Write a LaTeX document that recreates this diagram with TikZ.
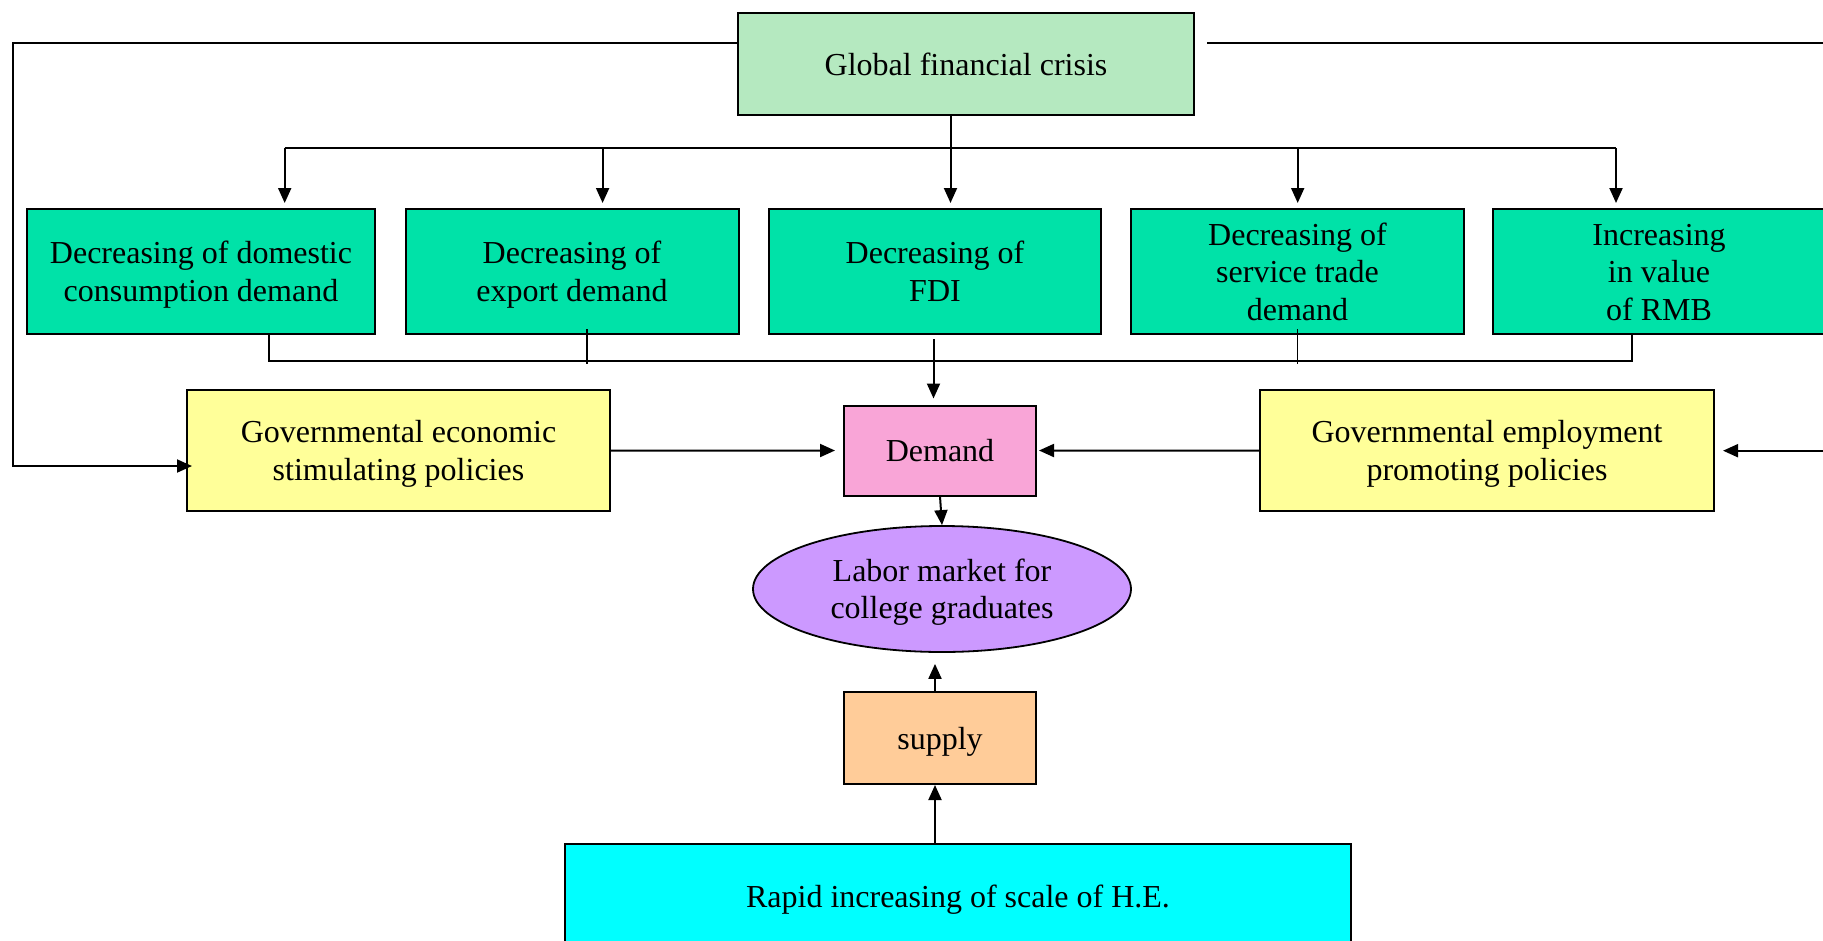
\documentclass[tikz,border=0pt]{standalone}
\usepackage{fontspec}
\setmainfont{Liberation Serif}
\usetikzlibrary{arrows.meta,shapes.geometric}
\definecolor{cglob}{RGB}{181,233,192}
\definecolor{cgreen}{RGB}{0,226,168}
\definecolor{cyel}{RGB}{255,255,153}
\definecolor{cpink}{RGB}{249,165,215}
\definecolor{cpurp}{RGB}{204,153,255}
\definecolor{cpeach}{RGB}{255,204,153}
\definecolor{ccyan}{RGB}{0,255,255}
\newcommand{\topstrut}{\rule{0pt}{29pt}}
\tikzset{
  box/.style={draw=black, line width=2pt, inner sep=0pt, align=center,
    font=\fontsize{32}{37.5}\selectfont,
    execute at end node={\rule[-7pt]{0pt}{7pt}}},
  conn/.style={line width=2pt},
  arr/.style={line width=2pt, -{Triangle[length=15pt,width=13pt]}},
  tick/.style={line width=1.2pt},
}
\begin{document}
\begin{tikzpicture}[x=1pt,y=-1pt]
\useasboundingbox (0,0) rectangle (1823,940);
\clip (0,0) rectangle (1823,940);
\fill[white] (0,0) rectangle (1823,940);

% nodes
\node[box, fill=cglob, minimum width=456pt, minimum height=102pt] (glob) at (966,64) {\topstrut Global financial crisis};

\node[box, fill=cgreen, minimum width=348pt, minimum height=125pt] (d1) at (201,271.5) {\topstrut Decreasing of domestic\\consumption demand};
\node[box, fill=cgreen, minimum width=333pt, minimum height=125pt] (d2) at (572,271.5) {\topstrut Decreasing of\\export demand};
\node[box, fill=cgreen, minimum width=332pt, minimum height=125pt] (d3) at (935,271.5) {\topstrut Decreasing of\\FDI};
\node[box, fill=cgreen, minimum width=333pt, minimum height=125pt] (d4) at (1297.5,271.5) {\topstrut Decreasing of\\service trade\\demand};
\node[box, fill=cgreen, minimum width=332pt, minimum height=125pt] (d5) at (1659,271.5) {\topstrut Increasing\\in value\\of RMB};

\node[box, fill=cyel, minimum width=423pt, minimum height=121pt] (gecon) at (398.5,450.7) {\topstrut Governmental economic\\stimulating policies};
\node[box, fill=cyel, minimum width=454pt, minimum height=121pt] (gemp) at (1487,450.7) {\topstrut Governmental employment\\promoting policies};
\node[box, fill=cpink, minimum width=192pt, minimum height=90pt] (dem) at (940,450.5) {\topstrut Demand};

\node[box, ellipse, fill=cpurp, line width=1.8pt, minimum width=378pt, minimum height=126pt] (lab) at (942,589) {\topstrut Labor market for\\college graduates};
\node[box, fill=cpeach, minimum width=192pt, minimum height=92pt] (sup) at (940,738) {\topstrut supply};
\node[box, fill=ccyan, minimum width=786pt, minimum height=104pt] (rap) at (958,896) {\topstrut Rapid increasing of scale of H.E.};

% coordinates
\coordinate (b1) at (284.7,148);
\coordinate (b2) at (602.6,148);
\coordinate (b3) at (950.5,148);
\coordinate (b4) at (1297.7,148);
\coordinate (b5) at (1616,148);
\coordinate (c1) at (269,360.7);
\coordinate (c5) at (1632,360.7);
\coordinate (t2) at (587,329);
\coordinate (t4) at (1297.7,329);
\coordinate (t2b) at (587,364);
\coordinate (t4b) at (1297.7,364);
\coordinate (f3) at (933.5,339);
\coordinate (tl) at (12.5,43);
\coordinate (bl) at (12.5,466);
\coordinate (gs) at (1207,43);
\coordinate (tr) at (1845,43);
\coordinate (br) at (1845,450.7);
\coordinate (sx) at (935,0);

% branch from crisis
\draw[conn] (b1) -- (b5);
\draw[arr, shorten >=5pt] (b3 |- glob.south) -- (b3 |- d3.north);
\draw[arr, shorten >=5pt] (b1) -- (b1 |- d1.north);
\draw[arr, shorten >=5pt] (b2) -- (b2 |- d2.north);
\draw[arr, shorten >=5pt] (b4) -- (b4 |- d4.north);
\draw[arr, shorten >=5pt] (b5) -- (b5 |- d5.north);

% collector below the green boxes
\draw[conn] ([yshift=2pt]c1 |- d1.south) -- (c1) -- (c5) -- (c5 |- d5.south);
\draw[tick] (t2) -- (t2b);
\draw[tick] (t4) -- (t4b);
\draw[arr, shorten >=6pt] (f3) -- (f3 |- dem.north);

% outer loops
\draw[arr, shorten >=-6pt] (tl -| glob.west) -- (tl) -- (bl) -- (bl -| gecon.west);
\draw[arr, shorten >=8pt] (gs) -- (tr) -- (br) -- (gemp.east);

% into demand
\draw[arr, shorten >=8pt] (gecon.east) -- (dem.west);
\draw[arr, shorten >=2pt] (gemp.west) -- (dem.east);

% demand and supply to the labor market
\draw[arr] (dem.south) -- (lab.north);
\draw[arr, shorten >=11pt] (sx |- sup.north) -- (sx |- lab.south);
\draw[arr] (sx |- rap.north) -- (sx |- sup.south);
\end{tikzpicture}
\end{document}
